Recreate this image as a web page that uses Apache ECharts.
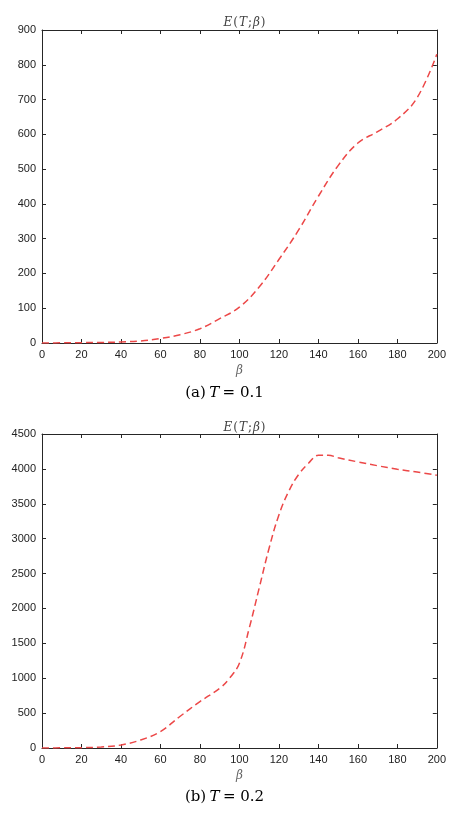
<!DOCTYPE html>
<html>
<head>
<meta charset="utf-8">
<script src="https://cdn.jsdelivr.net/npm/echarts@6/dist/echarts.min.js"></script>
<style>
  html, body { margin: 0; padding: 0; background: #fff; }
  #chart { width: 449px; height: 817px; }
</style>
</head>
<body>
<div id="chart"></div>
<script>
// beta values sampled along the x axis
var betaA = [0, 10, 20, 30, 40, 50, 60, 70, 80, 90, 100, 110, 120, 130, 140, 150, 160, 170, 180, 190, 200];
var energyA = [0, 0.5, 1, 1.5, 3, 6, 13, 24, 41, 70, 103, 161, 240, 325, 422, 510, 575, 608, 644, 705, 830];

var betaB = [0, 10, 20, 30, 40, 50, 60, 70, 80, 90, 95, 100, 105, 110, 115, 120, 125, 130, 135, 140, 145, 150, 160, 170, 180, 190, 200];
var energyB = [0, 2, 5, 15, 43, 115, 236, 455, 665, 856, 1000, 1215, 1720, 2290, 2860, 3340, 3680, 3920, 4080, 4195, 4195, 4160, 4100, 4045, 3995, 3955, 3910];

function pairs(xs, ys) {
    var out = [];
    for (var i = 0; i < xs.length; i++) out.push([xs[i], ys[i]]);
    return out;
}

var axisColor = '#262626';
var labelFont = { color: '#222', fontSize: 11, fontFamily: 'Liberation Sans, Arial, sans-serif',
    formatter: function (v) { return String(v); } };

function xAxes(gridIndex) {
    return [
        {
            gridIndex: gridIndex, type: 'value', min: 0, max: 200, interval: 20,
            name: 'β', nameLocation: 'middle', nameGap: 22,
            nameTextStyle: { fontFamily: 'DejaVu Serif, serif', fontStyle: 'italic', fontSize: 12, color: '#666' },
            axisLine: { onZero: false, lineStyle: { color: axisColor, width: 1 } },
            axisTick: { inside: true, length: 4, lineStyle: { color: axisColor } },
            axisLabel: Object.assign({ margin: 6 }, labelFont),
            splitLine: { show: false }
        },
        {
            gridIndex: gridIndex, type: 'value', min: 0, max: 200, interval: 20, position: 'top',
            axisLine: { show: true, onZero: false, lineStyle: { color: axisColor, width: 1 } },
            axisTick: { show: true, inside: true, length: 4, lineStyle: { color: axisColor } },
            axisLabel: { show: false },
            splitLine: { show: false }
        }
    ];
}

function yAxes(gridIndex, max, step) {
    return [
        {
            gridIndex: gridIndex, type: 'value', min: 0, max: max, interval: step,
            axisLine: { show: true, onZero: false, lineStyle: { color: axisColor, width: 1 } },
            axisTick: { show: true, inside: true, length: 4, lineStyle: { color: axisColor } },
            axisLabel: Object.assign({ margin: 6 }, labelFont),
            splitLine: { show: false }
        },
        {
            gridIndex: gridIndex, type: 'value', min: 0, max: max, interval: step, position: 'right',
            axisLine: { show: true, onZero: false, lineStyle: { color: axisColor, width: 1 } },
            axisTick: { show: true, inside: true, length: 4, lineStyle: { color: axisColor } },
            axisLabel: { show: false },
            splitLine: { show: false }
        }
    ];
}

var titleRich = {
    i: { fontFamily: 'DejaVu Serif, serif', fontStyle: 'italic', fontWeight: 'normal', fontSize: 12, color: '#444' },
    n: { fontFamily: 'DejaVu Serif, serif', fontWeight: 'normal', fontSize: 12, color: '#444', padding: [0, 1, 0, 1] }
};
var capRich = {
    n: { fontFamily: 'DejaVu Serif, serif', fontSize: 15, color: '#444' },
    i: { fontFamily: 'DejaVu Serif, serif', fontStyle: 'italic', fontSize: 15, color: '#444' }
};

var myChart = echarts.init(document.getElementById('chart'));
var option = {
    animation: false,
    backgroundColor: '#fff',
    title: [
        { text: '{i|E}{n|(}{i|T}{n|;}{i|β}{n|)}', left: 240, top: 12, textAlign: 'center',
          textStyle: { fontWeight: 'normal', rich: titleRich } },
        { text: '{i|E}{n|(}{i|T}{n|;}{i|β}{n|)}', left: 240, top: 417, textAlign: 'center',
          textStyle: { fontWeight: 'normal', rich: titleRich } }
    ],
    grid: [
        { left: 42, right: 12, top: 30, height: 313 },
        { left: 42, right: 12, top: 434, height: 314 }
    ],
    xAxis: xAxes(0).concat(xAxes(1)),
    yAxis: yAxes(0, 900, 100).concat(yAxes(1, 4500, 500)),
    graphic: [
        {
            type: 'text', left: 'center', top: 386,
            style: { text: '{n|(a)} {i|T} {n|= 0.1}', rich: capRich }
        },
        {
            type: 'text', left: 'center', top: 790,
            style: { text: '{n|(b)} {i|T} {n|= 0.2}', rich: capRich }
        }
    ],
    series: [
        {
            type: 'line', xAxisIndex: 0, yAxisIndex: 0,
            data: pairs(betaA, energyA), smooth: 0.4, showSymbol: false,
            lineStyle: { color: '#ec4848', width: 1.5, type: [7, 4] }
        },
        {
            type: 'line', xAxisIndex: 2, yAxisIndex: 2,
            data: pairs(betaB, energyB), smooth: 0.4, showSymbol: false,
            lineStyle: { color: '#ec4848', width: 1.5, type: [7, 4] }
        }
    ]
};
myChart.setOption(option);
</script>
</body>
</html>
